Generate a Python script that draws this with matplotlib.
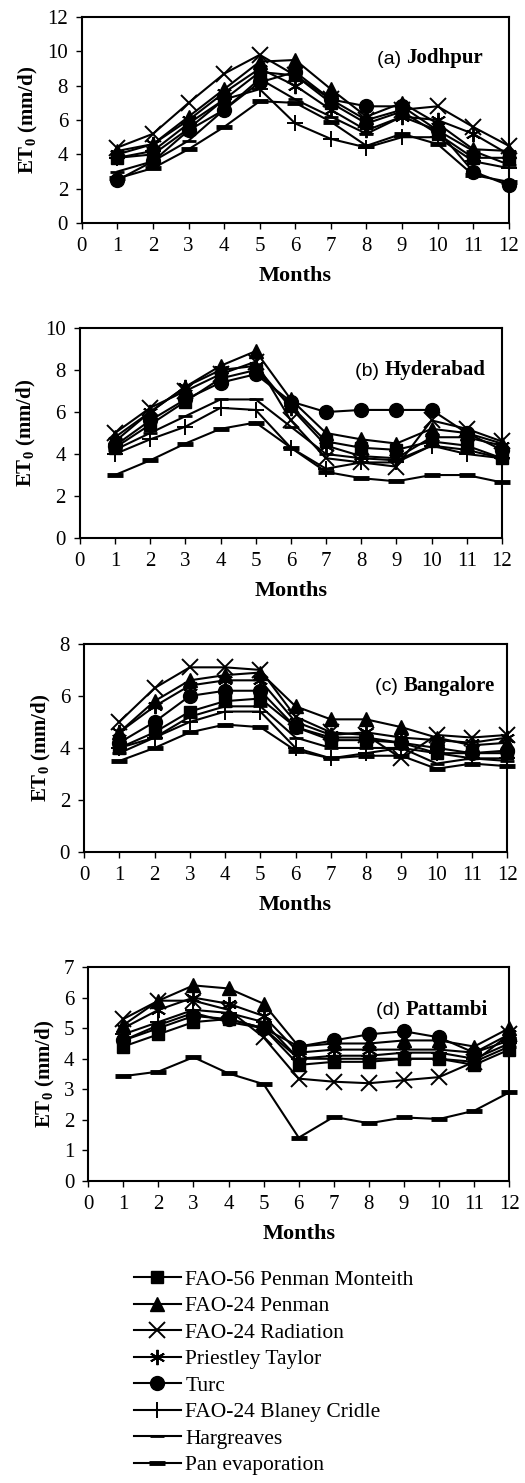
import numpy as np
import matplotlib.pyplot as plt

plt.rcParams['font.family'] = ['Liberation Serif', 'DejaVu Serif']
plt.rcParams['mathtext.fontset'] = 'custom'
plt.rcParams['mathtext.rm'] = 'Liberation Serif'
plt.rcParams['mathtext.bf'] = 'Liberation Serif:bold'

months = list(range(1, 13))
methods = ['FAO-56 Penman Monteith', 'FAO-24 Penman', 'FAO-24 Radiation',
           'Priestley Taylor', 'Turc', 'FAO-24 Blaney Cridle', 'Hargreaves',
           'Pan evaporation']

# rows follow the order of methods
jodhpur = [
    [3.8, 4.0, 5.5, 7.2, 8.8, 8.6, 7.0, 5.8, 6.5, 5.2, 3.8, 3.8],
    [4.2, 4.6, 6.2, 7.8, 9.4, 9.5, 7.8, 6.2, 7.0, 5.8, 4.3, 4.2],
    [4.4, 5.2, 7.0, 8.7, 9.8, 8.6, 7.2, 6.0, 6.6, 6.8, 5.6, 4.5],
    [4.0, 4.6, 6.0, 7.6, 9.0, 8.0, 6.6, 5.4, 6.2, 6.0, 5.2, 4.0],
    [2.5, 3.6, 5.4, 6.6, 8.2, 8.8, 7.2, 6.8, 6.8, 5.4, 3.0, 2.2],
    [3.8, 4.2, 5.8, 7.2, 7.8, 5.8, 4.9, 4.4, 5.0, 5.0, 3.6, 3.2],
    [3.0, 3.6, 4.8, 6.6, 8.4, 7.2, 6.2, 5.2, 6.2, 5.4, 4.2, 3.4],
    [2.6, 3.2, 4.3, 5.6, 7.1, 7.0, 5.9, 4.5, 5.2, 4.6, 2.8, 2.4],
]
hyderabad = [
    [4.3, 5.4, 6.5, 7.6, 8.0, 6.3, 4.6, 4.3, 4.2, 4.6, 4.4, 3.8],
    [4.8, 6.0, 7.2, 8.2, 8.9, 6.6, 5.0, 4.7, 4.5, 5.2, 5.0, 4.5],
    [5.0, 6.2, 7.0, 7.8, 8.4, 5.6, 3.8, 3.6, 3.4, 5.6, 5.2, 4.6],
    [4.6, 6.0, 7.2, 8.0, 8.2, 6.2, 4.4, 3.9, 3.8, 4.8, 4.8, 4.4],
    [4.4, 5.6, 6.6, 7.4, 7.8, 6.5, 6.0, 6.1, 6.1, 6.1, 5.0, 4.2],
    [4.0, 4.7, 5.3, 6.2, 6.1, 4.3, 3.3, 3.6, 3.6, 4.4, 4.0, 3.8],
    [4.2, 5.0, 5.8, 6.6, 6.6, 5.3, 4.0, 3.8, 3.7, 4.4, 4.2, 3.8],
    [3.0, 3.7, 4.5, 5.2, 5.5, 4.3, 3.15, 2.85, 2.7, 3.0, 3.0, 2.65],
]
bangalore = [
    [4.0, 4.6, 5.4, 5.8, 5.9, 4.8, 4.3, 4.3, 4.2, 3.8, 3.8, 3.8],
    [4.6, 5.8, 6.6, 6.8, 6.9, 5.6, 5.1, 5.1, 4.8, 4.4, 4.1, 4.2],
    [5.0, 6.3, 7.1, 7.1, 7.0, 5.2, 4.6, 4.5, 3.6, 4.5, 4.4, 4.5],
    [4.6, 5.6, 6.4, 6.6, 6.6, 5.0, 4.5, 4.6, 4.4, 4.3, 4.2, 4.4],
    [4.2, 5.0, 6.0, 6.2, 6.2, 4.8, 4.4, 4.4, 4.2, 4.0, 3.8, 3.9],
    [4.0, 4.4, 5.0, 5.4, 5.4, 4.0, 3.6, 3.8, 4.0, 3.8, 3.6, 3.6],
    [3.8, 4.4, 5.2, 5.6, 5.6, 4.4, 4.0, 4.0, 4.0, 3.4, 3.6, 3.5],
    [3.5, 4.0, 4.6, 4.9, 4.8, 3.9, 3.6, 3.7, 3.7, 3.2, 3.4, 3.3],
]
pattambi = [
    [4.4, 4.8, 5.2, 5.3, 5.0, 3.8, 3.9, 3.9, 4.0, 4.0, 3.8, 4.3],
    [5.1, 5.9, 6.4, 6.3, 5.8, 4.4, 4.5, 4.5, 4.6, 4.6, 4.4, 5.0],
    [5.3, 5.9, 5.9, 5.6, 4.7, 3.35, 3.25, 3.2, 3.3, 3.4, 3.9, 4.8],
    [5.0, 5.6, 6.0, 5.8, 5.4, 4.2, 4.3, 4.3, 4.3, 4.3, 4.2, 4.8],
    [4.6, 5.0, 5.4, 5.3, 5.0, 4.4, 4.6, 4.8, 4.9, 4.7, 4.2, 4.6],
    [4.8, 5.2, 5.6, 5.5, 5.2, 4.0, 4.1, 4.1, 4.2, 4.2, 4.0, 4.5],
    [4.6, 5.1, 5.5, 5.2, 5.0, 4.0, 4.0, 4.0, 4.0, 4.0, 3.9, 4.4],
    [3.43, 3.58, 4.05, 3.52, 3.17, 1.42, 2.1, 1.89, 2.08, 2.03, 2.3, 2.9],
]

styles = [
    dict(marker='s', ms=8, mew=1),
    dict(marker='^', ms=10.5, mew=1),
    dict(marker='x', ms=11, mew=1.4),
    dict(marker=(6, 2, 0), ms=11, mew=1.4),
    dict(marker='o', ms=10, mew=1),
    dict(marker='+', ms=11, mew=1.4),
    dict(marker='_', ms=10, mew=2),
    dict(marker='_', ms=12, mew=3.5),
]

panels = [
    (jodhpur, '(a)', 'Jodhpur', 12, 2, [0.156, 0.8496, 0.813, 0.1389], (0.94, 0.80)),
    (hyderabad, '(b)', 'Hyderabad', 10, 2, [0.152, 0.6372, 0.804, 0.1416], (0.96, 0.80)),
    (bangalore, '(c)', 'Bangalore', 8, 2, [0.160, 0.4255, 0.806, 0.1403], (0.97, 0.80)),
    (pattambi, '(d)', 'Pattambi', 7, 1, [0.168, 0.2036, 0.802, 0.1443], (0.95, 0.80)),
]

fig = plt.figure(figsize=(5.25, 14.83), dpi=100)

handles = []
for data, tag, city, ymax, step, rect, tpos in panels:
    ax = fig.add_axes(rect)
    handles = []
    for vals, st in zip(data, styles):
        ln, = ax.plot(months, vals, color='black', lw=1.5, mfc='black',
                      mec='black', clip_on=False, **st)
        handles.append(ln)
    ax.set_xlim(0, 12)
    ax.set_ylim(0, ymax)
    ax.set_xticks(range(13))
    ax.set_yticks(np.arange(0, ymax + 1, step))
    ax.tick_params(direction='out', length=4, width=1, labelsize=15, pad=6)
    for s in ax.spines.values():
        s.set_linewidth(1.5)
    ax.set_xlabel('Months', fontsize=16, fontweight='bold', labelpad=7)
    ax.set_ylabel(r'ET$_\mathbf{0}$ (mm/d)', fontsize=15, fontweight='bold',
                  labelpad=5)
    t = ax.text(tpos[0], tpos[1], city, transform=ax.transAxes, ha='right',
                va='center', fontsize=15, fontweight='bold')
    ax.annotate(tag + ' ', xy=(0, 0.45), xycoords=t, ha='right', va='center',
                fontsize=14, family='Liberation Sans')

fig.legend(handles, methods, loc='upper left',
           bbox_to_anchor=(125 / 525, 1 - 1261 / 1483), frameon=False,
           fontsize=15.5, handlelength=2.2, handletextpad=0.2, labelspacing=0.3,
           borderaxespad=0)

fig.savefig('out.png', dpi=100)
